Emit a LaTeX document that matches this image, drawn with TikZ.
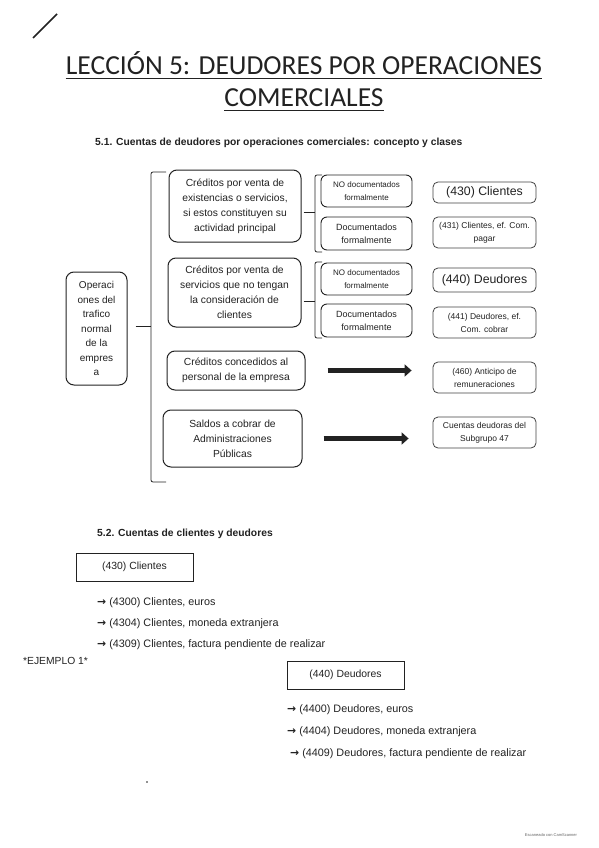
\documentclass[tikz,border=0pt]{standalone}
\usepackage{fontspec}
\setmainfont{Liberation Sans}
\newfontfamily\titlefont{Carlito}
\newfontfamily\arrfont{DejaVu Sans}
\usetikzlibrary{arrows.meta}
\definecolor{ink}{HTML}{222222}
\newcommand{\itemarrow}{{\arrfont\bfseries →}}
\begin{document}
\begin{tikzpicture}[x=1pt,y=-1pt,
  every node/.style={text=ink, inner sep=0pt},
  bigbox/.style={draw=ink, line width=1pt, rounded corners=8pt, align=center, font=\fontsize{10.3}{15}\selectfont},
  midbox/.style={draw=ink, line width=0.9pt, rounded corners=6pt, align=center, font=\fontsize{8}{13}\selectfont, minimum width=91pt, minimum height=32pt},
  docbox/.style={midbox, font=\fontsize{9}{13}\selectfont},
  accbox/.style={draw=ink!85, line width=0.8pt, rounded corners=5pt, align=center, minimum width=103pt, font=\fontsize{8.5}{13}\selectfont},
  accbig/.style={accbox, font=\fontsize{12.3}{14}\selectfont},
  brace/.style={draw=ink, line width=0.8pt, rounded corners=2pt},
  bigarrow/.style={-{Triangle[length=7pt,width=12pt]}, line width=5pt, draw=ink},
  plainbox/.style={draw=ink, line width=0.9pt, minimum width=117pt, minimum height=28pt, font=\fontsize{10.4}{12}\selectfont},
  item/.style={anchor=base west, font=\fontsize{10.8}{12}\selectfont},
  head/.style={anchor=base west, font=\fontsize{10.3}{12}\selectfont\bfseries},
  ttl/.style={anchor=base, font=\titlefont\fontsize{27.5}{30}\selectfont}
]
\useasboundingbox (0,0) rectangle (599,848);
\fill[white] (0,0) rectangle (599,848);

% slash mark
\draw[ink, line width=1.5pt] (33,38) -- (57,14);

% title
\node[ttl] (t1) at (304,75) {LECCIÓN 5: DEUDORES POR OPERACIONES};
\draw[ink, line width=0.9pt] ([yshift=-3pt]t1.base west) -- ([yshift=-3pt]t1.base east);
\node[ttl] (t2) at (304,107) {COMERCIALES};
\draw[ink, line width=0.9pt] ([yshift=-3pt]t2.base west) -- ([yshift=-3pt]t2.base east);

\node[head] (h1) at (95,146) {5.1. Cuentas de deudores por operaciones comerciales: concepto y clases};

% left node
\node[bigbox, minimum width=61pt, minimum height=113pt, font=\fontsize{10}{14.5}\selectfont] (op) at (96.5,328.5)
  {Operaci\\ones del\\trafico\\normal\\de la\\empres\\a};

% big bracket
\coordinate (bt) at (151,326);
\draw[brace] (166,172) -- (151,172) -- (151,482) -- (166,482);
\draw[brace, shorten <=8pt] (op.east |- bt) -- (bt);

% concept boxes
\node[bigbox, minimum width=132pt, minimum height=72pt] (b1) at (235,206)
  {Créditos por venta de\\existencias o servicios,\\si estos constituyen su\\actividad principal};
\node[bigbox, minimum width=133pt, minimum height=69pt] (b2) at (234.5,292.5)
  {Créditos por venta de\\servicios que no tengan\\la consideración de\\clientes};
\node[bigbox, minimum width=138pt, minimum height=39pt] (b3) at (236,370.5)
  {Créditos concedidos al\\personal de la empresa};
\node[bigbox, minimum width=139pt, minimum height=57pt] (b4) at (232.5,438.5)
  {Saldos a cobrar de\\Administraciones\\Públicas};

% small braces
\coordinate (s1) at (315,212);
\draw[brace] (322,175) -- (315,175) -- (315,252) -- (322,252);
\draw[brace, shorten <=2pt] (b1.east |- s1) -- (s1);
\coordinate (s2) at (315,301);
\draw[brace] (322,262) -- (315,262) -- (315,338) -- (322,338);
\draw[brace, shorten <=2pt] (b2.east |- s2) -- (s2);

% documentation boxes
\node[midbox] (n1) at (366.5,191) {NO documentados\\formalmente};
\node[docbox, minimum height=33pt] (d1) at (366.5,233.5) {Documentados\\formalmente};
\node[midbox] (n2) at (366.5,279) {NO documentados\\formalmente};
\node[docbox, minimum height=33pt] (d2) at (366.5,320.5) {Documentados\\formalmente};

% account boxes
\node[accbig, minimum height=21pt] (a430) at (484.5,192.5) {(430) Clientes};
\node[accbox, minimum height=31pt] (a431) at (484.5,232.5) {(431) Clientes, ef. Com.\\pagar};
\node[accbig, minimum height=24pt] (a440) at (484.5,280) {(440) Deudores};
\node[accbox, minimum height=31pt] (a441) at (484.5,322.5) {(441) Deudores, ef.\\Com. cobrar};
\node[accbox, minimum height=31pt] (a460) at (484.5,377.5) {(460) Anticipo de\\remuneraciones};
\node[accbox, minimum height=31pt] (a47) at (484.5,432.5) {Cuentas deudoras del\\Subgrupo 47};

% block arrows
\draw[bigarrow, shorten <=22pt, shorten >=21pt] (b3.east) -- (b3.east -| a460.west);
\draw[bigarrow, shorten <=21pt, shorten >=24pt] (b4.east) -- (b4.east -| a47.west);

% section 5.2
\node[head] (h2) at (97,536) {5.2. Cuentas de clientes y deudores};
\node[plainbox] (c430) at (134.5,567) {(430) Clientes};
\node[item] (i1) at (97,605) {\itemarrow\ (4300) Clientes, euros};
\node[item] (i2) at (97,626) {\itemarrow\ (4304) Clientes, moneda extranjera};
\node[item] (i3) at (97,647) {\itemarrow\ (4309) Clientes, factura pendiente de realizar};
\node[item, font=\fontsize{10.3}{12}\selectfont] (ej) at (23,664) {*EJEMPLO 1*};
\node[plainbox] (c440) at (345.5,675) {(440) Deudores};
\node[item] (j1) at (287,712) {\itemarrow\ (4400) Deudores, euros};
\node[item] (j2) at (287,734) {\itemarrow\ (4404) Deudores, moneda extranjera};
\node[item] (j3) at (290,756) {\itemarrow\ (4409) Deudores, factura pendiente de realizar};

% scan footer
\fill[ink] (147,782) circle (0.8pt);
\node[anchor=base, font=\fontsize{4}{5}\selectfont, text=ink!70] (cs) at (551,836) {Escaneado con CamScanner};
\end{tikzpicture}
\end{document}
